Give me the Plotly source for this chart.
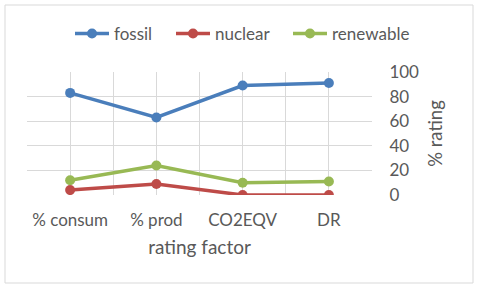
import plotly.graph_objects as go

categories = ["% consum", "% prod", "CO2EQV", "DR"]
fossil = [83, 63, 89, 91]
nuclear = [4, 9, 0, 0]
renewable = [12, 24, 10, 11]

series = [("fossil", fossil, "#4A7EBB"), ("nuclear", nuclear, "#BE4B48"), ("renewable", renewable, "#98B954")]

L, R, T, B = 27, 108, 72, 93
W, H = 480, 288
pw, ph = W - L - R, H - T - B
font = "Lato, Carlito, Open Sans, sans-serif"
gray = "#595959"
grid = "#D9D9D9"
legend_px = [70, 171, 288]  # left edge of each legend box, px

xs = list(range(len(categories)))
fig = go.Figure()
legend_layout = {}
for i, (name, vals, col) in enumerate(series):
    lname = "legend" if i == 0 else f"legend{i + 1}"
    fig.add_trace(go.Scatter(x=xs, y=vals, name=name, mode="lines+markers",
                             line=dict(color=col, width=3.5),
                             marker=dict(color=col, size=10), legend=lname))
    legend_layout[lname] = dict(x=(legend_px[i] - L) / pw, xanchor="left",
                                y=1 + (T - 34) / ph, yanchor="middle",
                                font=dict(size=17, color=gray), itemwidth=34,
                                bgcolor="rgba(0,0,0,0)")

fig.update_layout(
    width=W, height=H, margin=dict(l=L, r=R, t=T, b=B, autoexpand=False),
    paper_bgcolor="white", plot_bgcolor="white",
    font=dict(family=font, size=17, color=gray),
    showlegend=True,
    xaxis=dict(range=[-0.5, len(categories) - 0.5], tickvals=xs, ticktext=categories,
               showgrid=True, gridcolor=grid, gridwidth=1, zeroline=False,
               showline=False, ticks="outside", ticklen=10, tickcolor="rgba(0,0,0,0)",
               tickfont=dict(size=17, color=gray), automargin=False,
               minor=dict(tickvals=[i - 0.5 for i in range(len(categories) + 1)],
                          showgrid=True, gridcolor=grid, gridwidth=1),
               title=dict(text="rating factor", font=dict(size=19, color=gray), standoff=11)),
    yaxis=dict(range=[0, 100], dtick=20, side="right", showgrid=True, gridcolor=grid,
               zeroline=False, showline=False, ticks="outside", ticklen=13, automargin=False,
               tickcolor="rgba(0,0,0,0)", tickfont=dict(size=17, color=gray),
               title=dict(text="% rating", font=dict(size=18.5, color=gray), standoff=10)),
    **legend_layout,
)
# outer chart border
fig.add_shape(type="rect", xref="paper", yref="paper",
              x0=(5 - L) / pw, x1=(473 - L) / pw, y0=-(283 - (T + ph)) / ph, y1=1 + (T - 5) / ph,
              line=dict(color="#D9D9D9", width=1), fillcolor="rgba(0,0,0,0)", layer="below")

fig.write_html("out.html", config={"displayModeBar": False},
               post_script="document.body.style.margin='0px';")
